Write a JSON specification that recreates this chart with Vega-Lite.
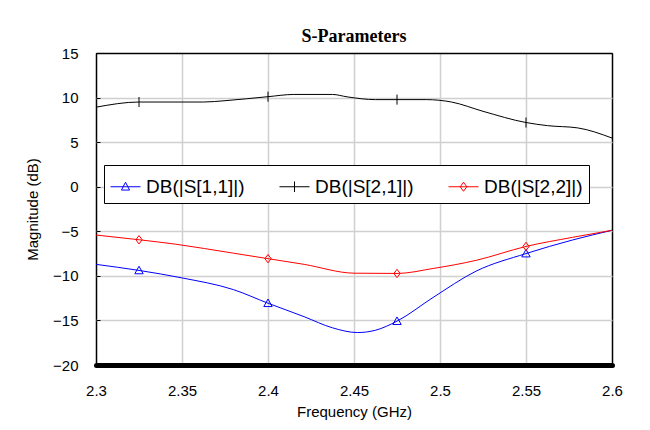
{
  "$schema": "https://vega.github.io/schema/vega-lite/v6.json",
  "width": 516,
  "height": 312,
  "autosize": "none",
  "padding": {"left": 96, "top": 53, "right": 38, "bottom": 65},
  "background": "white",
  "title": {"text": "S-Parameters", "font": "Liberation Serif", "fontSize": 18, "fontWeight": "bold", "color": "black", "offset": 0, "anchor": "middle"},
  "config": {
    "view": {"stroke": "black", "strokeWidth": 1},
    "axis": {"labelFont": "Liberation Sans", "labelFontSize": 15, "labelColor": "black", "titleFont": "Liberation Sans", "titleFontSize": 15, "titleFontWeight": "normal", "titleColor": "black", "gridColor": "#d0d0d0", "gridWidth": 1.5}
  },
  "datasets": {
    "curves": [
      {"f": 2.3, "s": "DB(|S[1,1]|)", "db": -8.71},
      {"f": 2.325, "s": "DB(|S[1,1]|)", "db": -9.39},
      {"f": 2.35, "s": "DB(|S[1,1]|)", "db": -10.23},
      {"f": 2.38, "s": "DB(|S[1,1]|)", "db": -11.55},
      {"f": 2.4, "s": "DB(|S[1,1]|)", "db": -13.07},
      {"f": 2.421, "s": "DB(|S[1,1]|)", "db": -14.58},
      {"f": 2.4375, "s": "DB(|S[1,1]|)", "db": -15.83},
      {"f": 2.452, "s": "DB(|S[1,1]|)", "db": -16.36},
      {"f": 2.4625, "s": "DB(|S[1,1]|)", "db": -16.1},
      {"f": 2.475, "s": "DB(|S[1,1]|)", "db": -15.08},
      {"f": 2.496, "s": "DB(|S[1,1]|)", "db": -12.42},
      {"f": 2.521, "s": "DB(|S[1,1]|)", "db": -9.47},
      {"f": 2.55, "s": "DB(|S[1,1]|)", "db": -7.5},
      {"f": 2.577, "s": "DB(|S[1,1]|)", "db": -5.98},
      {"f": 2.6, "s": "DB(|S[1,1]|)", "db": -4.89},
      {"f": 2.3, "s": "DB(|S[2,1]|)", "db": 8.92},
      {"f": 2.325, "s": "DB(|S[2,1]|)", "db": 9.5},
      {"f": 2.3626, "s": "DB(|S[2,1]|)", "db": 9.5},
      {"f": 2.375, "s": "DB(|S[2,1]|)", "db": 9.65},
      {"f": 2.4, "s": "DB(|S[2,1]|)", "db": 10.1},
      {"f": 2.415, "s": "DB(|S[2,1]|)", "db": 10.35},
      {"f": 2.4375, "s": "DB(|S[2,1]|)", "db": 10.35},
      {"f": 2.446, "s": "DB(|S[2,1]|)", "db": 10.08},
      {"f": 2.4625, "s": "DB(|S[2,1]|)", "db": 9.77},
      {"f": 2.475, "s": "DB(|S[2,1]|)", "db": 9.77},
      {"f": 2.492, "s": "DB(|S[2,1]|)", "db": 9.77},
      {"f": 2.5067, "s": "DB(|S[2,1]|)", "db": 9.5},
      {"f": 2.525, "s": "DB(|S[2,1]|)", "db": 8.46},
      {"f": 2.55, "s": "DB(|S[2,1]|)", "db": 7.2},
      {"f": 2.5625, "s": "DB(|S[2,1]|)", "db": 6.85},
      {"f": 2.58, "s": "DB(|S[2,1]|)", "db": 6.6},
      {"f": 2.6, "s": "DB(|S[2,1]|)", "db": 5.46},
      {"f": 2.3, "s": "DB(|S[2,2]|)", "db": -5.42},
      {"f": 2.325, "s": "DB(|S[2,2]|)", "db": -5.95},
      {"f": 2.346, "s": "DB(|S[2,2]|)", "db": -6.44},
      {"f": 2.38, "s": "DB(|S[2,2]|)", "db": -7.46},
      {"f": 2.4, "s": "DB(|S[2,2]|)", "db": -8.07},
      {"f": 2.421, "s": "DB(|S[2,2]|)", "db": -8.71},
      {"f": 2.45, "s": "DB(|S[2,2]|)", "db": -9.7},
      {"f": 2.475, "s": "DB(|S[2,2]|)", "db": -9.73},
      {"f": 2.496, "s": "DB(|S[2,2]|)", "db": -9.17},
      {"f": 2.521, "s": "DB(|S[2,2]|)", "db": -8.26},
      {"f": 2.55, "s": "DB(|S[2,2]|)", "db": -6.7},
      {"f": 2.577, "s": "DB(|S[2,2]|)", "db": -5.68},
      {"f": 2.6, "s": "DB(|S[2,2]|)", "db": -4.89}
    ],
    "markers": [
      {"f": 2.325, "s": "DB(|S[1,1]|)", "db": -9.39},
      {"f": 2.4, "s": "DB(|S[1,1]|)", "db": -13.07},
      {"f": 2.475, "s": "DB(|S[1,1]|)", "db": -15.08},
      {"f": 2.55, "s": "DB(|S[1,1]|)", "db": -7.5},
      {"f": 2.325, "s": "DB(|S[2,1]|)", "db": 9.5},
      {"f": 2.4, "s": "DB(|S[2,1]|)", "db": 10.1},
      {"f": 2.475, "s": "DB(|S[2,1]|)", "db": 9.77},
      {"f": 2.55, "s": "DB(|S[2,1]|)", "db": 7.2},
      {"f": 2.325, "s": "DB(|S[2,2]|)", "db": -5.95},
      {"f": 2.4, "s": "DB(|S[2,2]|)", "db": -8.07},
      {"f": 2.475, "s": "DB(|S[2,2]|)", "db": -9.73},
      {"f": 2.55, "s": "DB(|S[2,2]|)", "db": -6.7}
    ]
  },
  "encoding": {
    "x": {"field": "f", "type": "quantitative", "scale": {"domain": [2.3, 2.6], "nice": false, "zero": false},
      "axis": {"title": "Frequency (GHz)", "values": [2.3, 2.35, 2.4, 2.45, 2.5, 2.55, 2.6], "format": "~g", "ticks": false, "labelPadding": 18, "titlePadding": 6, "domainColor": "black", "domainWidth": 5, "domainCap": "round", "labelFlush": false,
        "gridColor": {"condition": {"test": "datum.value <= 2.3 || datum.value >= 2.6", "value": "black"}, "value": "#d0d0d0"}}},
    "y": {"field": "db", "type": "quantitative", "scale": {"domain": [-20, 15], "nice": false, "zero": false},
      "axis": {"title": "Magnitude (dB)", "values": [-20, -15, -10, -5, 0, 5, 10, 15], "domain": false, "tickSize": -4, "tickColor": "black", "labelPadding": 22, "titlePadding": 12,
        "gridColor": {"condition": {"test": "datum.value >= 15", "value": "black"}, "value": "#d0d0d0"}}}
  },
  "layer": [
    {
      "data": {"name": "curves"},
      "mark": {"type": "line", "interpolate": "monotone", "strokeWidth": 1},
      "encoding": {
        "color": {"field": "s", "type": "nominal",
          "scale": {"domain": ["DB(|S[1,1]|)", "DB(|S[2,1]|)", "DB(|S[2,2]|)"], "range": ["#0000ff", "#000000", "#ff0000"]},
          "legend": {"title": null, "orient": "none", "legendX": 8, "legendY": 112, "direction": "horizontal", "columns": 3,
            "labelFont": "Liberation Sans", "labelFontSize": 19, "labelColor": "black", "symbolSize": 900, "symbolStrokeWidth": 1,
            "strokeColor": "black", "fillColor": "white", "padding": 6, "columnPadding": 32, "labelOffset": 5,
            "encode": {"symbols": {"update": {
              "shape": {"signal": "datum.value === 'DB(|S[1,1]|)' ? 'M-1,0H1M-0.27,0.22L0,-0.3L0.27,0.22Z' : datum.value === 'DB(|S[2,1]|)' ? 'M-1,0H1M0,-0.35V0.35' : 'M-1,0H1M-0.22,0L0,-0.3L0.22,0L0,0.3Z'"},
              "fill": {"value": "transparent"}}}}}
        }
      }
    },
    {
      "data": {"name": "markers"},
      "transform": [{"filter": "datum.s === 'DB(|S[1,1]|)'"}],
      "mark": {"type": "point", "filled": false, "strokeWidth": 1, "size": 70, "opacity": 1, "color": "#0000ff", "shape": "M-1,0.8L0,-1L1,0.8Z"}
    },
    {
      "data": {"name": "markers"},
      "transform": [{"filter": "datum.s === 'DB(|S[2,1]|)'"}],
      "mark": {"type": "point", "filled": false, "strokeWidth": 1, "size": 70, "opacity": 1, "color": "#000000", "shape": "M0,-1.2V1.2"}
    },
    {
      "data": {"name": "markers"},
      "transform": [{"filter": "datum.s === 'DB(|S[2,2]|)'"}],
      "mark": {"type": "point", "filled": false, "strokeWidth": 1, "size": 70, "opacity": 1, "color": "#ff0000", "shape": "M-0.75,0L0,-1L0.75,0L0,1Z"}
    }
  ]
}
